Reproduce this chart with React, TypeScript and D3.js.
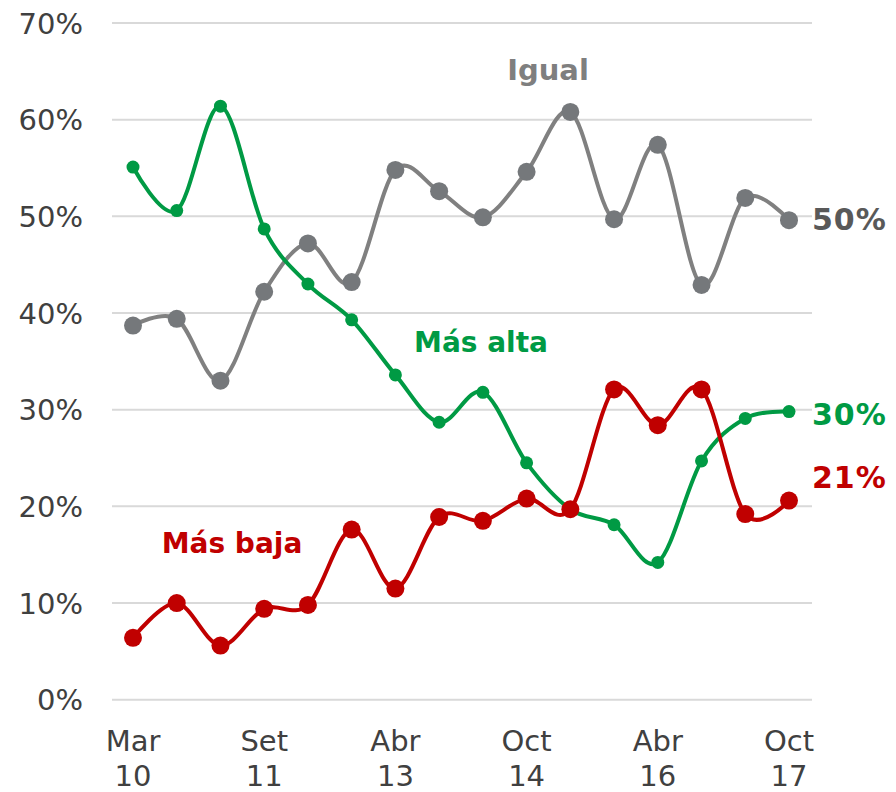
import React from "react";
import * as d3 from "d3";

const months = ["Mar 10", "", "", "Set 11", "", "", "Abr 13", "", "", "Oct 14", "", "", "Abr 16", "", "", "Oct 17"];
const igual = [38.7, 39.4, 33.0, 42.2, 47.2, 43.2, 54.8, 52.6, 49.9, 54.6, 60.8, 49.7, 57.4, 42.9, 51.9, 49.6];
const masAlta = [55.1, 50.6, 61.4, 48.7, 43.0, 39.3, 33.6, 28.7, 31.8, 24.5, 19.7, 18.1, 14.2, 24.7, 29.1, 29.8];
const masBaja = [6.4, 10.0, 5.6, 9.4, 9.8, 17.6, 11.5, 18.9, 18.5, 20.8, 19.7, 32.1, 28.4, 32.1, 19.2, 20.6];
const yTicks = [0, 10, 20, 30, 40, 50, 60, 70];
const endLabels = ["50%", "30%", "21%"];

const W = 896, H = 792;
const FONT = "'DejaVu Sans', Verdana, sans-serif";

export default function App() {
  const x = d3.scaleLinear().domain([0, months.length - 1]).range([133, 789]);
  const y = d3.scaleLinear().domain([0, 70]).range([699.7, 23]);
  const line = d3.line<number>()
    .x((_, i) => x(i))
    .y((d) => y(d))
    .curve(d3.curveCatmullRom.alpha(0));

  const series = [
    { data: igual, color: "#808080", marker: "#75787B", r: 9, label: endLabels[0], labelColor: "#595959", ly: 230 },
    { data: masAlta, color: "#009A44", marker: "#009A44", r: 6.5, label: endLabels[1], labelColor: "#009A44", ly: 425 },
    { data: masBaja, color: "#C00000", marker: "#C00000", r: 9, label: endLabels[2], labelColor: "#C00000", ly: 488 },
  ];

  return (
    <svg width={W} height={H} style={{ position: "absolute", left: 0, top: 0, background: "#fff" }} fontFamily={FONT}>
      {yTicks.map((t) => (
        <g key={t}>
          <line x1={112} x2={812} y1={y(t)} y2={y(t)} stroke="#D9D9D9" strokeWidth={2} />
          <text x={83} y={y(t) + 10.5} textAnchor="end" fontSize={29} fill="#404040">{t}%</text>
        </g>
      ))}
      {months.map((m, i) =>
        m ? (
          <text key={i} x={x(i)} textAnchor="middle" fontSize={29} fill="#404040">
            <tspan x={x(i)} y={751}>{m.split(" ")[0]}</tspan>
            <tspan x={x(i)} y={786}>{m.split(" ")[1]}</tspan>
          </text>
        ) : null
      )}
      {series.map((s, k) => (
        <g key={k}>
          <path d={line(s.data) || ""} fill="none" stroke={s.color} strokeWidth={4} />
          {s.data.map((v, i) => (
            <circle key={i} cx={x(i)} cy={y(v)} r={s.r} fill={s.marker} />
          ))}
          <text x={812} y={s.ly} fontSize={30} fontWeight="bold" fill={s.labelColor} letterSpacing={1}>{s.label}</text>
        </g>
      ))}
      <text x={548} y={80} textAnchor="middle" fontSize={29} fontWeight="bold" fill="#7F7F7F">Igual</text>
      <text x={481} y={352} textAnchor="middle" fontSize={28} fontWeight="bold" fill="#009A44">Más alta</text>
      <text x={232} y={553} textAnchor="middle" fontSize={28} fontWeight="bold" fill="#C00000">Más baja</text>
    </svg>
  );
}
